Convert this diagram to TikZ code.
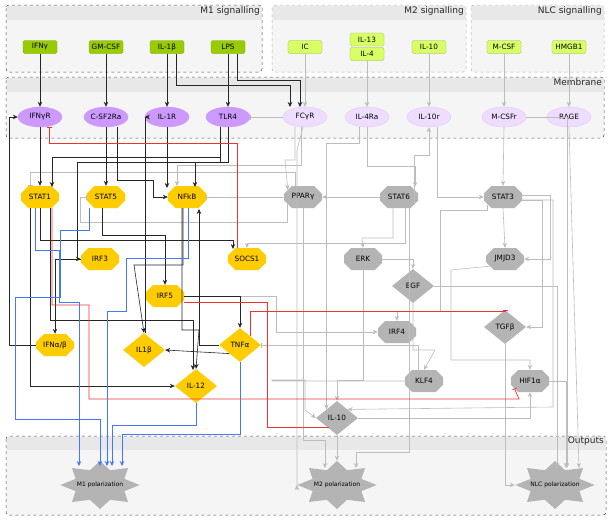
\documentclass[tikz,border=0pt]{standalone}
\usepackage{fontspec}
\setmainfont{DejaVu Sans}
\usetikzlibrary{shapes.geometric,shapes.misc,arrows.meta}
\definecolor{gA}{HTML}{99CC00}
\definecolor{gB}{HTML}{D9FF66}
\definecolor{pA}{HTML}{CC99FF}
\definecolor{pB}{HTML}{EEDDFF}
\definecolor{yel}{HTML}{FFCC00}
\definecolor{gr}{HTML}{B4B4B4}
\definecolor{ge}{HTML}{BDBDBD}
\definecolor{rd}{HTML}{EE3333}
\definecolor{bl}{HTML}{4477FF}
\tikzset{
 every node/.style={font=\fontsize{7.3}{8}\selectfont, inner sep=1pt},
 inA/.style={rectangle, rounded corners=1.5pt, fill=gA, draw=gA!80!black, line width=0.3pt, minimum width=34pt, minimum height=13pt},
 inB/.style={inA, fill=gB, draw=gB!70!black},
 recA/.style={ellipse, fill=pA, draw=pA, minimum width=44pt, minimum height=20pt, inner sep=0pt},
 recB/.style={ellipse, fill=pB, draw=pA!60, line width=0.3pt, minimum width=44pt, minimum height=20pt, inner sep=0pt},
 oct/.style={chamfered rectangle, chamfered rectangle corners={north west,north east,south west,south east}, chamfered rectangle xsep=4pt, chamfered rectangle ysep=4pt, fill=yel, minimum width=38pt, minimum height=22pt, inner sep=0.5pt},
 goct/.style={oct, fill=gr},
 dia/.style={diamond, fill=yel, minimum width=42pt, minimum height=34pt, inner sep=0pt},
 gdia/.style={dia, fill=gr},
 outst/.style={star, star points=8, star point ratio=1.5, minimum size=48pt, inner sep=0pt, fill=gr, xscale=1.65, transform shape},
 grp/.style={draw=black!70, dashed, rounded corners=3pt, fill=black!4, line width=0.5pt},
 grpL/.style={draw=black!30, dashed, rounded corners=3pt, fill=black!4, line width=0.5pt},
 ttl/.style={font=\fontsize{9}{10}\selectfont, anchor=north east, text=black!85},
 ar/.style={-{Stealth[length=5pt,width=4.5pt]}, line width=0.6pt},
 inh/.style={-{Bar[width=5pt]}, line width=0.7pt},
 blk/.style={ar, draw=black!85},
 gry/.style={ar, draw=ge},
 gryI/.style={inh, draw=ge},
 red/.style={inh, draw=rd},
 blu/.style={ar, draw=bl},
}
\begin{document}
\begin{tikzpicture}[x=1pt,y=-1pt]
\useasboundingbox (0,0) rectangle (614,520);
\fill[white] (0,0) rectangle (614,520);
% groups
\draw[grp] (6,5) rectangle (262,72);
\fill[black!9] (6.5,5.5) rectangle (261.5,20);
\node[ttl] (tM1) at (261,5) {M1 signalling};
\draw[grpL] (272,5) rectangle (466,72);
\fill[black!9] (272.5,5.5) rectangle (465.5,20);
\node[ttl] (tM2) at (465,5) {M2 signalling};
\draw[grpL] (471,5) rectangle (604,72);
\fill[black!9] (471.5,5.5) rectangle (603.5,20);
\node[ttl] (tNLC) at (603,5) {NLC signalling};
\draw[grp] (6,77) rectangle (604,138);
\fill[black!9] (6.5,77.5) rectangle (603.5,92);
\node[ttl] (tMem) at (603,77) {Membrane};
\draw[grp] (6,436) rectangle (606,515);
\fill[black!9] (6.5,436.5) rectangle (605.5,450);
\node[ttl] (tOut) at (605,436) {Outputs};
% inputs
\node[inA] (IFNg) at (40,47) {IFNγ};
\node[inA] (GMCSF) at (106,47) {GM-CSF};
\node[inA] (IL1b) at (167,47) {IL-1β};
\node[inA] (LPS) at (228,47) {LPS};
\node[inB] (IC) at (305,47) {IC};
\node[inB] (IL13) at (367,39.5) {IL-13};
\node[inB] (IL4) at (367,54) {IL-4};
\node[inB] (IL10i) at (429,47) {IL-10};
\node[inB] (MCSF) at (504,47) {M-CSF};
\node[inB] (HMGB1) at (569,47) {HMGB1};
% receptors
\node[recA] (IFNgR) at (40,117) {IFNγR};
\node[recA] (CSF) at (106,117) {C-SF2Ra};
\node[recA] (IL1R) at (167,117) {IL-1R};
\node[recA] (TLR4) at (228,117) {TLR4};
\node[recB] (FCyR) at (305,117) {FCγR};
\node[recB] (IL4Ra) at (367,117) {IL-4Ra};
\node[recB] (IL10r) at (429,117) {IL-10r};
\node[recB] (MCSFr) at (504,117) {M-CSFr};
\node[recB] (RAGE) at (569,117) {RAGE};
% internal
\node[oct] (STAT1) at (40,197) {STAT1};
\node[oct] (STAT5) at (106,197) {STAT5};
\node[oct] (NFkB) at (187,197) {NFkB};
\node[goct] (PPARg) at (303,197) {PPARγ};
\node[goct] (STAT6) at (399,197) {STAT6};
\node[goct] (STAT3) at (503,197) {STAT3};
\node[oct] (IRF3) at (100,259) {IRF3};
\node[oct] (SOCS1) at (247,259) {SOCS1};
\node[goct] (ERK) at (363,259) {ERK};
\node[goct] (JMJD3) at (505,259) {JMJD3};
\node[gdia] (EGF) at (413,286) {EGF};
\node[oct] (IRF5) at (165,296) {IRF5};
\node[goct] (IRF4) at (397,332) {IRF4};
\node[gdia] (TGFb) at (505,327) {TGFβ};
\node[oct] (IFNab) at (55,345) {IFNα/β};
\node[dia] (IL1bo) at (144,350) {IL1β};
\node[dia] (TNFa) at (240,345) {TNFα};
\node[goct] (KLF4) at (424,381) {KLF4};
\node[goct] (HIF1a) at (530,381) {HIF1α};
\node[dia] (IL12) at (196,386) {IL-12};
\node[gdia] (IL10) at (337,418) {IL-10};
% outputs
\begin{scope}[shift={(100,485)}]\node[outst] (M1) at (0,0) {};\end{scope}
\begin{scope}[shift={(337,485)}]\node[outst] (M2) at (0,0) {};\end{scope}
\begin{scope}[shift={(555,485)}]\node[outst] (NLC) at (0,0) {};\end{scope}
\node[font=\fontsize{6}{7}\selectfont] (lM1) at (100,485) {M1 polarization};
\node[font=\fontsize{6}{7}\selectfont] (lM2) at (337,485) {M2 polarization};
\node[font=\fontsize{6}{7}\selectfont] (lNLC) at (555,485) {NLC polarization};

% ---------- gray edges ----------
\draw[gry] (IC) -- (FCyR);
\draw[gry] (IL4) -- (IL4Ra);
\draw[gry] (IL10i) -- (IL10r);
\draw[gry] (MCSF) -- (MCSFr);
\draw[gry] (HMGB1) -- (RAGE);
\draw[gryI] (FCyR.west) -- (TLR4.east);
\draw[gry] ([xshift=-10pt]FCyR.south) |- (285,160) -- (PPARg.north west);
\draw[gry] ([xshift=-4pt]FCyR.south) |- (177,165) -- (177,186);
\draw[gry] ([xshift=-2pt]FCyR.south) -- (297,150) -- (297,490) -- (M2.west);
\draw[gry] (IL4Ra.south) |- (415,166) -- (415,187);
\draw[gry] ([xshift=-8pt]IL4Ra.south) |- (326,143) -- (326,230) -| (IL10.north west);
\draw[gry] ([xshift=8pt]IL10r.south) |- (STAT3.west);
\draw[gry] (STAT6.south east) |- (429,155) -- (IL10r.south);
\draw[gry] (MCSFr.south) -- (STAT3.north);
\draw[gry] (MCSFr.east) -| (567,468);
\draw[gry] (RAGE.south) -- (579,468);
\draw[gryI] (PPARg.west) -- (NFkB.east);
\draw[gryI] ([xshift=-8pt]PPARg.north) |- (30,172) -- (30,186);
\draw[gryI] (PPARg.south west) |- (80,222) |- (STAT5.west);
\draw[gry] (STAT6.west) -- (PPARg.east);
\draw[gry] ([xshift=-6pt]STAT6.south) |- (362,238) -- (ERK.north);
\draw[gry] ([xshift=6pt]STAT6.south) |- (247,243) -- (SOCS1.north);
\draw[gry] ([xshift=10pt]STAT6.south) |- (356,452) -- (356,468);
\draw[gry] (PPARg.south) |- (325,440) -- (325,468);
\draw[gry] (STAT3.south) -- (JMJD3.north);
\draw[gry] ([yshift=2pt]STAT3.east) -| (550,259) -- (JMJD3.east);
\draw[gry] ([yshift=-3pt]STAT3.east) -| (542,327) -- (TGFb.east);
\draw[gry] (STAT3.south west) |- (440,210) -- (440,311) -| (IRF4.north);
\draw[gry] (ERK.east) -| (EGF.north);
\draw[gry] (ERK.south) |- (337,380) -- (IL10.north);
\draw[gry] (EGF.east) -| (557,468);
\draw[gry] (EGF.south) |- (435,350) -- (KLF4.north);
\draw[gry] (IRF5.east) -| (276,332) -- (IRF4.west);
\draw[gryI] ([xshift=-6pt]KLF4.north) |- (TNFa.east);
\draw[gry] (KLF4.west) -| (272,380) -| (305,410) -- (IL10.west);
\draw[gry] (JMJD3.south west) -- (451,270) |- (530,360) -- (HIF1a.north);
\draw[gry] (IL10.east) -| (HIF1a.south);
\draw[gry] (HIF1a.east) -| (566,468);
\draw[gry] (TGFb.south) |- (NLC.west);
\draw[gry] (IL10.south) -- (M2.north);
\draw[gry] ([yshift=-3pt]STAT3.east) -| (553,407) -- (IL10.north east);

% ---------- black edges ----------
\draw[blk] (IFNg) -- (IFNgR);
\draw[blk] (GMCSF) -- (CSF);
\draw[blk] (IL1b) -- (IL1R);
\draw[blk] (LPS) -- (TLR4);
\draw[blk] ([xshift=9pt]IL1b.south) |- (290,85) -- (290,107);
\draw[blk] ([xshift=9pt]LPS.south) |- (300,80) -- (300,107);
\draw[blk] (IFNgR) -- (STAT1);
\draw[blk] (CSF) -- (STAT5);
\draw[blk] ([xshift=11pt]CSF.south) |- (153,180) |- (NFkB.west);
\draw[blk] (IL1R.south) -- (167,188);
\draw[blk] ([xshift=-8pt]TLR4.south) |- (52,157) -- (52,187);
\draw[blk] (TLR4.south) |- (195,162) -- (195,187);
\draw[blk] ([xshift=-8pt]TLR4.south) |- (77,162) |- (IRF3.west);
\draw[blk] (STAT1.south) |- (233,240) -- (233,249);
\draw[blk] ([xshift=-4pt]STAT5.south) |- (165,235) -- (IRF5.north);
\draw[blk] ([xshift=10pt]STAT1.south) |- (193,320) -- (193,370);
\draw[blk] ([xshift=-10pt]STAT1.south) |- (IL12.west);
\draw[blk] ([xshift=-5pt]NFkB.south) |- (199,330) -- (IL12.north);
\draw[blk] (IRF3.west) -| (IFNab.north);
\draw[blk] (IFNab.west) -| (9,117) -- (IFNgR.west);
\draw[blk] ([xshift=-4pt]NFkB.south) |- (134,265) -- (IL1bo.north);
\draw[blk] ([xshift=1pt]IL1bo.north) |- (IL1R.west);
\draw[blk] (IRF5.east) -| (TNFa.north);
\draw[blk] (TNFa.south west) -- (IL1bo.east);
\draw[blk] (TNFa.west) -| (199,209);

% ---------- red ----------
\draw[red] ([xshift=-10pt]SOCS1.north) |- (49,143) -- (49,127);
\draw[red] ([xshift=12pt]STAT1.south) |- (89,305) |- (519,399) -- (HIF1a.south west);
\draw[red] ([yshift=-6pt]IRF5.east) -| (267,427) -| (IL10.south west);
\draw[red] (TNFa.north east) |- (505,311) -- (TGFb.north);

% ---------- blue ----------
\draw[blu] ([xshift=-17pt]STAT5.south) |- (60,230) |- (15,297) |- (100,419) -- (100,466);
\draw[blu] ([xshift=-5pt]STAT1.south) |- (59,250) |- (79,302) -- (79,466);
\draw[blu] ([xshift=1pt]NFkB.south) |- (126,258) |- (107,311) -- (107,466);
\draw[blu] (IL12.south) |- (112,425) -- (112,466);
\draw[blu] (TNFa.south) |- (122,434) -- (122,466);
\end{tikzpicture}
\end{document}
